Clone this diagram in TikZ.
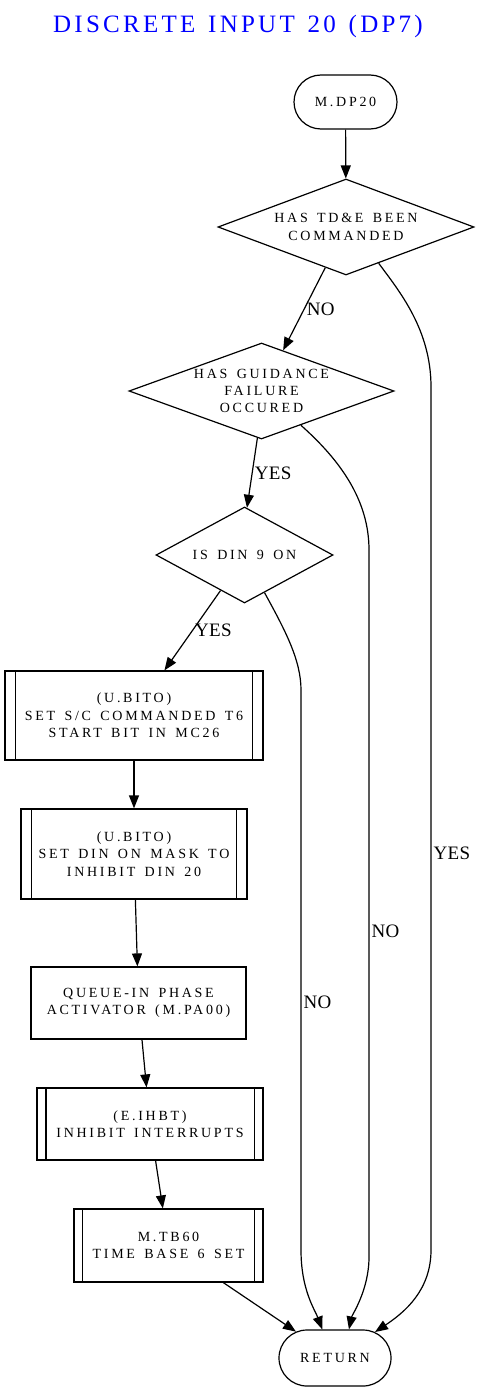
\documentclass[tikz,border=0pt]{standalone}
\usepackage{fontspec}
\setmainfont{Liberation Serif}
\newfontfamily\boxfont{Liberation Serif}[LetterSpace=19.5, WordSpace=1.5]
\newfontfamily\titlefont{Liberation Serif}[LetterSpace=13, WordSpace=1.35]
\newfontfamily\lblfont{Liberation Serif}[LetterSpace=2]
\usepackage{tikz}
\usetikzlibrary{shapes.geometric, shapes.misc, arrows.meta, positioning}
\tikzset{>={Triangle[length=13pt,width=10pt]}}

\begin{document}
\begin{tikzpicture}[x=1pt, y=-1pt, line width=1.2pt,
		box/.style={draw, inner sep=0pt, align=center, font={\boxfont\fontsize{14}{17.3}\selectfont}},
		term/.style={box, rounded rectangle, minimum width=103pt, minimum height=54pt},
		decision/.style={box, diamond, shape aspect=2.7, minimum height=96pt},
		process/.style={box, rectangle},
		lbl/.style={anchor=west, inner sep=2pt, font={\lblfont\fontsize{19}{23}\selectfont}}]
	\useasboundingbox (0,0) rectangle (479,1391);
	\node[anchor=base, text=blue, font={\titlefont\fontsize{25}{30}\selectfont}] (title) at (238,32.7) {DISCRETE INPUT 20 (DP7)};
	% nodes
	\node[term] (start) at (345.5,102) {M.DP20};
	\node[decision, minimum width=256pt] (tde) at (346,227) {HAS TD\&E BEEN\\COMMANDED};
	\node[decision, minimum width=265pt] (guid) at (261.5,391) {HAS GUIDANCE\\FAILURE\\OCCURED};
	\node[decision, minimum width=177pt] (din) at (244.5,555) {IS DIN 9 ON};
	\node[process, minimum width=258pt, minimum height=89pt] (bitstart) at (134,715.5) {(U.BITO)\\SET S/C COMMANDED T6\\START BIT IN MC26};
	\node[process, minimum width=226pt, minimum height=90pt] (bitmask) at (134,854) {(U.BITO)\\SET DIN ON MASK TO\\INHIBIT DIN 20};
	\node[process, minimum width=215pt, minimum height=72pt] (queue) at (138.5,1003) {QUEUE-IN PHASE\\ACTIVATOR (M.PA00)};
	\node[process, minimum width=226pt, minimum height=72pt] (ihbt) at (150,1124) {(E.IHBT)\\INHIBIT INTERRUPTS};
	\node[process, minimum width=189pt, minimum height=73pt] (tbset) at (168.5,1245.5) {M.TB60\\TIME BASE 6 SET};
	\node[term, minimum width=112pt, minimum height=56pt] (ret) at (335,1358) {RETURN};
	% subroutine side bars
	\foreach \n/\d in {bitstart/11, bitmask/11, ihbt/9.5, tbset/9} {
		\draw ([xshift=\d pt]\n.north west) -- ([xshift=\d pt]\n.south west);
		\draw ([xshift=-\d pt]\n.north east) -- ([xshift=-\d pt]\n.south east);
	}
	% flow
	\draw[->] (start) -- (tde);
	\draw[->] (tde.243) -- node[lbl, pos=0.5] {NO} (guid.62);
	\draw[->] (tde.-48) .. controls (400,292) and (431,330) .. (431,387) -- node[lbl, pos=0.54] {YES} (431,1250) .. controls (431,1290) and (405,1312) .. (ret.33);
	\draw[->] (guid.-95) -- node[lbl, pos=0.5] {YES} (din.87);
	\draw[->] (guid.-41) .. controls (340,460) and (369,500) .. (369,550) -- node[lbl, pos=0.54] {NO} (369,1257) .. controls (369,1290) and (352,1315) .. (ret.64);
	\draw[->] (din.236) -- node[lbl, pos=0.5] {YES} (bitstart.56);
	\draw[->] (din.-62) .. controls (285,630) and (301,660) .. (301,690) -- node[lbl, pos=0.557] {NO} (301,1250) .. controls (301,1290) and (315,1310) .. (ret.114);
	\draw[->] (bitstart) -- (bitmask);
	\draw[->] (bitmask) -- (queue);
	\draw[->] (queue) -- (ihbt);
	\draw[->] (ihbt) -- (tbset);
	\draw[->] (tbset) -- (ret);
\end{tikzpicture}
\end{document}
